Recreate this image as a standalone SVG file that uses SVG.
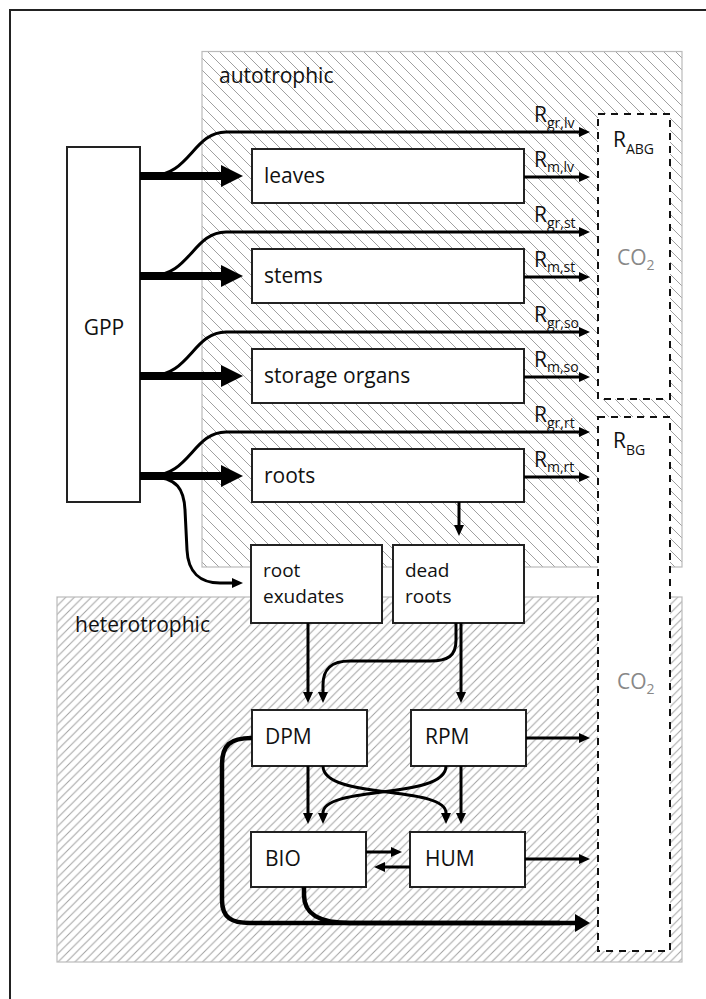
<svg xmlns="http://www.w3.org/2000/svg" width="706" height="999" viewBox="0 0 706 999">
<style>
text{font-family:"Open Sans","Noto Sans","Liberation Sans",sans-serif;font-size:21px;fill:#111}
.sub{font-size:14px}
.two{font-size:19px}
.co2{fill:#888}
.box{fill:#fff;stroke:#222;stroke-width:2}
.reg{stroke:#bbb;stroke-width:1.2}
.dash{fill:#fff;stroke:#111;stroke-width:2;stroke-dasharray:7,6}
.thin{fill:none;stroke:#000;stroke-width:3;marker-end:url(#ah)}
.thick{fill:none;stroke:#000;stroke-width:8;marker-end:url(#ahT)}
.out{fill:none;stroke:#000;stroke-width:4.5}
</style>
<defs>
<pattern id="hA" patternUnits="userSpaceOnUse" width="12" height="12">
<path d="M-1,-1 L13,13 M-1,11 L1,13 M11,-1 L13,1" stroke="#a0a0a0" stroke-width="1"/>
</pattern>
<pattern id="hH" patternUnits="userSpaceOnUse" width="8.5" height="8.5">
<path d="M-1,9.5 L9.5,-1 M-1,1 L1,-1 M7.5,9.5 L9.5,7.5" stroke="#a0a0a0" stroke-width="1"/>
</pattern>
<marker id="ah" markerUnits="userSpaceOnUse" markerWidth="12" markerHeight="12" refX="0" refY="5" orient="auto" overflow="visible">
<path d="M0,0 L11,5 L0,10 z" fill="#000"/>
</marker>
<marker id="ahT" markerUnits="userSpaceOnUse" markerWidth="24" markerHeight="24" refX="0" refY="11" orient="auto" overflow="visible">
<path d="M0,0 L22,11 L0,22 z" fill="#000"/>
</marker>
<marker id="ahO" markerUnits="userSpaceOnUse" markerWidth="16" markerHeight="18" refX="0" refY="9" orient="auto" overflow="visible">
<path d="M0,0 L15,9 L0,18 z" fill="#000"/>
</marker>
</defs>
<rect width="706" height="999" fill="#fff"/>
<path d="M10,999 L10,10 L706,10" fill="none" stroke="#222" stroke-width="2"/>

<g id="region-autotrophic">
<rect class="reg" x="202" y="51.5" width="480" height="515.5" fill="url(#hA)"/>
<text x="219" y="83">autotrophic</text>
</g>
<g id="region-heterotrophic">
<rect class="reg" x="57" y="597" width="625" height="365" fill="url(#hH)"/>
<text x="75" y="632">heterotrophic</text>
</g>

<g id="co2-above">
<rect class="dash" x="598" y="114" width="72" height="285"/>
<text x="613" y="147">R<tspan class="sub" dy="7">ABG</tspan></text>
<text class="co2" x="617" y="265">CO<tspan class="sub" dy="5">2</tspan></text>
</g>
<g id="co2-below">
<rect class="dash" x="598" y="417" width="72" height="534"/>
<text x="613" y="448">R<tspan class="sub" dy="7">BG</tspan></text>
<text class="co2" x="617" y="689">CO<tspan class="sub" dy="5">2</tspan></text>
</g>

<g id="gpp"><rect class="box" x="67" y="147" width="73" height="355"/><text x="104" y="335" text-anchor="middle">GPP</text></g>
<g id="leaves"><rect class="box" x="252" y="149" width="272" height="54"/><text x="264" y="183">leaves</text></g>
<g id="stems"><rect class="box" x="252" y="249" width="272" height="54"/><text x="264" y="283">stems</text></g>
<g id="storage"><rect class="box" x="252" y="349" width="272" height="54"/><text x="264" y="383">storage organs</text></g>
<g id="roots"><rect class="box" x="252" y="449" width="272" height="53"/><text x="264" y="483">roots</text></g>
<g id="exudates"><rect class="box" x="251" y="545" width="131" height="78"/><text class="two" x="263" y="577">root</text><text class="two" x="263" y="603">exudates</text></g>
<g id="deadroots"><rect class="box" x="393" y="545" width="131" height="78"/><text class="two" x="405" y="577">dead</text><text class="two" x="405" y="603">roots</text></g>
<g id="dpm"><rect class="box" x="252" y="710" width="115" height="56"/><text x="265" y="744">DPM</text></g>
<g id="rpm"><rect class="box" x="411" y="710" width="115" height="56"/><text x="425" y="744">RPM</text></g>
<g id="bio"><rect class="box" x="251" y="832" width="115" height="55"/><text x="265" y="866">BIO</text></g>
<g id="hum"><rect class="box" x="410" y="832" width="115" height="55"/><text x="425" y="866">HUM</text></g>

<g id="connectors">
<path class="thin" d="M150,176 C190,176 193,132 226,132 L579,132"/>
<path class="thin" d="M150,276 C190,276 193,232 226,232 L579,232"/>
<path class="thin" d="M150,376 C190,376 193,332 226,332 L579,332"/>
<path class="thin" d="M150,476 C190,476 193,432 226,432 L579,432"/>
<path class="thin" d="M150,477 C178,477 184,490 185,510 L187,550 C188,572 200,583 220,583 L232,583"/>
<path class="thick" d="M140,176 L221,176"/>
<path class="thick" d="M140,276 L221,276"/>
<path class="thick" d="M140,376 L221,376"/>
<path class="thick" d="M140,476 L221,476"/>
<path class="thin" d="M524,177 L579,177"/>
<path class="thin" d="M524,277 L579,277"/>
<path class="thin" d="M524,377 L579,377"/>
<path class="thin" d="M524,477 L579,477"/>
<path class="thin" d="M459,502 L459,525"/>
<path class="thin" d="M308,623 L308,692"/>
<path class="thin" d="M461,623 L461,692"/>
<path class="thin" d="M456,623 L456,640 C456,656 448,661 430,661 L350,661 C330,661 323,670 323,685 L323,692"/>
<path class="thin" d="M308,766 L308,813"/>
<path class="thin" d="M461,766 L461,813"/>
<path class="thin" d="M323,766 C323,800 446,785 446,813"/>
<path class="thin" d="M446,766 C446,800 323,785 323,813"/>
<path class="thin" d="M366,852 L391,852"/>
<path class="thin" d="M410,867 L385,867"/>
<path class="thin" d="M526,738 L579,738"/>
<path class="thin" d="M525,859 L579,859"/>
<path class="out" d="M304,887 L304,895 C304,915 320,923 350,923 L560,923"/>
<path class="out" d="M252,738 C230,738 222,745 222,765 L222,900 C222,918 232,923 250,923 L575,923" marker-end="url(#ahO)"/>
</g>

<g id="labels">
<text x="534" y="122">R<tspan class="sub" dy="6">gr,lv</tspan></text>
<text x="534" y="167">R<tspan class="sub" dy="5">m,lv</tspan></text>
<text x="534" y="222">R<tspan class="sub" dy="6">gr,st</tspan></text>
<text x="534" y="267">R<tspan class="sub" dy="5">m,st</tspan></text>
<text x="534" y="322">R<tspan class="sub" dy="6">gr,so</tspan></text>
<text x="534" y="367">R<tspan class="sub" dy="5">m,so</tspan></text>
<text x="534" y="422">R<tspan class="sub" dy="6">gr,rt</tspan></text>
<text x="534" y="467">R<tspan class="sub" dy="5">m,rt</tspan></text>
</g>
</svg>
